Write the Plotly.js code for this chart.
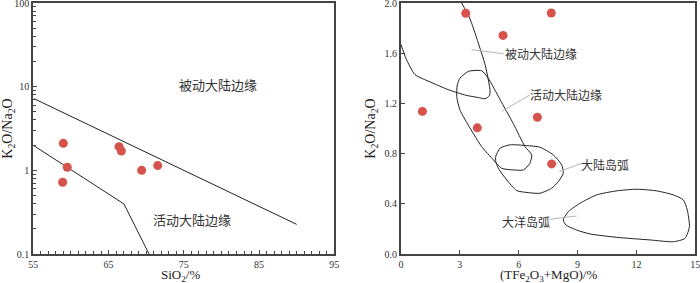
<!DOCTYPE html>
<html>
<head>
<meta charset="utf-8">
<script src="https://cdn.plot.ly/plotly-3.0.1.min.js"></script>
<style>html,body{margin:0;padding:0;background:#fff;}#chart{width:700px;height:283px;}</style>
</head>
<body>
<div id="chart"></div>
<script>
// ---- Left diagram: SiO2 vs K2O/Na2O ----
const leftSiO2 = [58.99, 59.52, 58.9, 66.39, 66.7, 69.4, 71.53];
const leftRatio = [2.10, 1.09, 0.72, 1.92, 1.70, 1.00, 1.14];
const leftUpperLineX = [55.09, 90.0];
const leftUpperLineY = [7.19, 0.226];
const leftLowerLineX = [55.0, 67.05, 70.38];
const leftLowerLineY = [1.99, 0.396, 0.1];
const leftLabels = ["被动大陆边缘", "活动大陆边缘"];
const leftLabelX = [79.6, 76.1];
const leftLabelY = [10.7, 0.262];
const leftYTickVals = [0.1, 1, 10, 100];
const leftYTickText = ["0.1", "1", "10", "100"];
const leftXTitle = "SiO<sub>2</sub>/%";

// ---- Right diagram: (TFe2O3+MgO) vs K2O/Na2O ----
const rightFeMg = [3.30, 7.66, 5.20, 1.09, 6.95, 3.89, 7.68];
const rightRatio = [1.918, 1.920, 1.742, 1.136, 1.090, 1.005, 0.718];
const rightXTitle = "(TFe<sub>2</sub>O<sub>3</sub>+MgO)/%";
const yTitle = "K<sub>2</sub>O/Na<sub>2</sub>O";

const passiveBoundX = [0, 0.25, 0.71, 1.5, 2.4, 3.3, 4.0, 4.28, 4.5, 4.54, 4.3, 3.9, 3.5, 3.09];
const passiveBoundY = [1.67, 1.56, 1.43, 1.37, 1.31, 1.265, 1.245, 1.237, 1.26, 1.3, 1.5, 1.7, 1.88, 2.0];

const activeX = [3.0, 3.43, 4.11, 4.45, 5.05, 5.72, 6.32, 6.66, 6.57, 6.24, 5.72, 5.13, 4.71, 4.11, 3.52, 3.0, 2.84, 2.87, 3.0];
const activeY = [1.40, 1.455, 1.46, 1.40, 1.23, 1.04, 0.856, 0.79, 0.723, 0.67, 0.67, 0.683, 0.75, 0.856, 1.003, 1.149, 1.255, 1.348, 1.40];

const contArcX = [4.83, 5.05, 5.56, 6.4, 7.08, 7.76, 8.19, 8.27, 8.02, 7.68, 7.08, 6.49, 5.9, 5.39, 4.96, 4.83, 4.83];
const contArcY = [0.777, 0.843, 0.87, 0.864, 0.851, 0.79, 0.71, 0.644, 0.577, 0.524, 0.484, 0.489, 0.505, 0.59, 0.683, 0.737, 0.777];

const oceanArcX = [8.27, 8.53, 9.12, 9.97, 10.99, 12.01, 13.03, 13.88, 14.39, 14.59, 14.7, 14.48, 13.88, 12.69, 10.99, 9.63, 8.95, 8.41, 8.27];
const oceanArcY = [0.271, 0.338, 0.404, 0.471, 0.503, 0.516, 0.503, 0.471, 0.431, 0.351, 0.218, 0.125, 0.098, 0.112, 0.133, 0.16, 0.191, 0.231, 0.271];

const rightLabels = ["被动大陆边缘", "活动大陆边缘", "大陆岛弧", "大洋岛弧"];
const rightLabelX = [7.15, 8.43, 10.41, 6.35];
const rightLabelY = [1.596, 1.269, 0.713, 0.261];
const leaderX = [[3.6, 5.22], [5.13, 6.58], [8.07, 9.21], [7.56, 8.95]];
const leaderY = [[1.628, 1.596], [1.136, 1.269], [0.657, 0.723], [0.277, 0.303]];

const markerColor = "#d6524a";
const lineColor = "#222";
const serif = "Liberation Serif, Times New Roman, serif";
const cjk = "Noto Sans CJK SC";

const traces = [];
traces.push({x: leftUpperLineX, y: leftUpperLineY, mode: "lines", line: {color: lineColor, width: 1}, xaxis: "x", yaxis: "y", hoverinfo: "skip"});
traces.push({x: leftLowerLineX, y: leftLowerLineY, mode: "lines", line: {color: lineColor, width: 1}, xaxis: "x", yaxis: "y", hoverinfo: "skip"});
traces.push({x: leftSiO2, y: leftRatio, mode: "markers", marker: {color: markerColor, size: 9}, xaxis: "x", yaxis: "y"});

[[passiveBoundX, passiveBoundY], [activeX, activeY], [contArcX, contArcY], [oceanArcX, oceanArcY]].forEach(function (c) {
  traces.push({x: c[0], y: c[1], mode: "lines", line: {color: lineColor, width: 1, shape: "spline", smoothing: 0.6}, xaxis: "x2", yaxis: "y2", hoverinfo: "skip"});
});
leaderX.forEach(function (lx, i) {
  traces.push({x: lx, y: leaderY[i], mode: "lines", line: {color: "#b5b5b5", width: 1}, xaxis: "x2", yaxis: "y2", hoverinfo: "skip"});
});
traces.push({x: rightFeMg, y: rightRatio, mode: "markers", marker: {color: markerColor, size: 9}, xaxis: "x2", yaxis: "y2"});

const annotations = [];
leftLabels.forEach(function (t, i) {
  annotations.push({text: t, x: leftLabelX[i], y: Math.log10(leftLabelY[i]), xref: "x", yref: "y", showarrow: false, font: {family: cjk, size: 13, color: "#333"}});
});
rightLabels.forEach(function (t, i) {
  annotations.push({text: t, x: rightLabelX[i], y: rightLabelY[i], xref: "x2", yref: "y2", showarrow: false, font: {family: cjk, size: 12, color: "#333"}});
});
// x-axis titles placed just below the tick labels
annotations.push({text: leftXTitle, xref: "x domain", yref: "paper", x: 0.49, y: -0.086, yanchor: "middle", showarrow: false, font: {family: serif, size: 13, color: "#222"}});
annotations.push({text: rightXTitle, xref: "x2 domain", yref: "paper", x: 0.5, y: -0.086, yanchor: "middle", showarrow: false, font: {family: serif, size: 13, color: "#222"}});

const axisCommon = {
  showgrid: false, zeroline: false, showline: true, mirror: true,
  linecolor: "#444", linewidth: 2, ticks: "inside", ticklen: 4, tickcolor: "#444",
  ticklabeloverflow: "allow",
  tickfont: {family: serif, size: 10, color: "#333"}
};

const layout = {
  width: 700, height: 283,
  margin: {l: 0, r: 0, t: 3, b: 29},
  paper_bgcolor: "#fff", plot_bgcolor: "#fff",
  showlegend: false,
  xaxis: Object.assign({}, axisCommon, {
    domain: [33.3 / 700, 334.3 / 700], range: [55, 95], dtick: 10, tick0: 55,
    minor: {ticks: "inside", ticklen: 3, dtick: 1, tickcolor: "#444"},
    anchor: "y"
  }),
  yaxis: Object.assign({}, axisCommon, {
    domain: [0, 1], type: "log", range: [-1, 2],
    tickvals: leftYTickVals, ticktext: leftYTickText,
    minor: {ticks: "inside", ticklen: 3, dtick: "D1", tickcolor: "#444"},
    title: {text: yTitle, font: {family: serif, size: 14, color: "#222"}, standoff: 2},
    anchor: "x"
  }),
  xaxis2: Object.assign({}, axisCommon, {
    domain: [401 / 700, 695.3 / 700], range: [0, 15], dtick: 3, tick0: 0,
    anchor: "y2"
  }),
  yaxis2: Object.assign({}, axisCommon, {
    domain: [0, 1], range: [0, 2], dtick: 0.4, tick0: 0,
    tickformat: ".1f",
    title: {text: yTitle, font: {family: serif, size: 14, color: "#222"}, standoff: 6},
    anchor: "x2"
  }),
  annotations: annotations
};

Plotly.newPlot("chart", traces, layout, {staticPlot: true, displayModeBar: false});
</script>
</body>
</html>
